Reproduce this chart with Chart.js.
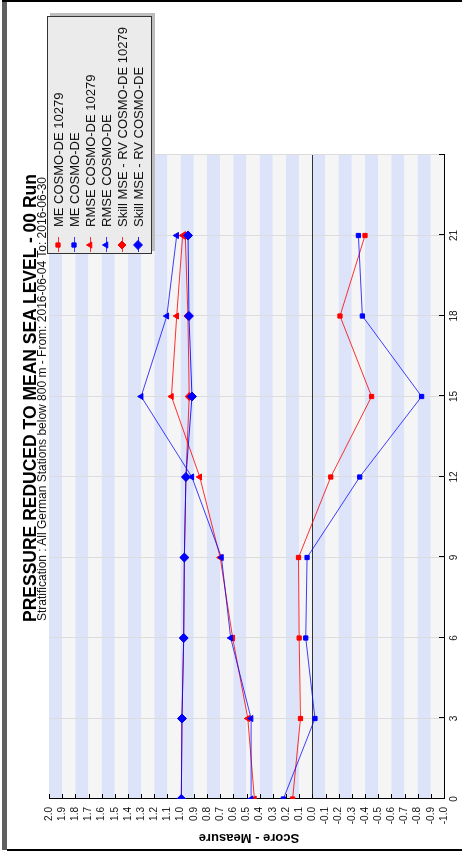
<!DOCTYPE html>
<html>
<head>
<meta charset="utf-8">
<script src="https://cdn.jsdelivr.net/npm/chart.js@4.4.1/dist/chart.umd.min.js"></script>
<style>
html, body { margin: 0; padding: 0; background: #fff; overflow: hidden; }
body { width: 462px; height: 855px; position: relative; font-family: 'Liberation Sans', Arial, sans-serif; }
/* the chart is laid out 855x462 and turned a quarter turn, like the reference */
#page { position: absolute; left: 0; top: 0; width: 855px; height: 462px; transform-origin: 0 0; transform: translateY(855px) rotate(-90deg); }
#page canvas { position: absolute; left: 0; top: 0; }
.title { position: absolute; left: 233px; top: 22px; font-size: 17.5px; font-weight: bold; line-height: 1; white-space: nowrap; color: #000; }
.subtitle { position: absolute; left: 234px; top: 36px; font-size: 12px; line-height: 1; white-space: nowrap; color: #111; }
.ytitle { position: absolute; left: 17px; top: 249px; font-size: 13px; font-weight: bold; line-height: 1; white-space: nowrap; color: #000; transform: translate(-50%, -50%) rotate(-90deg); }
.bar-left { position: absolute; left: 2px; top: 0; width: 5px; height: 850px; background: #5f5f5f; }
.line-top { position: absolute; left: 2px; top: 0; width: 460px; height: 2px; background: #000; }
.line-bottom { position: absolute; left: 7px; top: 849px; width: 455px; height: 2px; background: #000; }
</style>
</head>
<body>
<div id="page">
  <canvas id="scoreChart" width="855" height="462"></canvas>
  <div class="title">PRESSURE REDUCED TO MEAN SEA LEVEL - 00 Run</div>
  <div class="subtitle">Stratification : All German Stations below 800 m - From: 2016-06-04 To: 2016-06-30</div>
  <div class="ytitle">Score - Measure</div>
</div>
<div class="bar-left"></div>
<div class="line-top"></div>
<div class="line-bottom"></div>
<script>
// lead times (hours) and axis ticks
const leadTimes = [0, 3, 6, 9, 12, 15, 18, 21];
const xTickValues = [0, 3, 6, 9, 12, 15, 18, 21, 24];
const xTickLabels = ['0', '3', '6', '9', '12', '15', '18', '21', ''];

const seriesNames = [
    'ME COSMO-DE 10279',
    'ME COSMO-DE',
    'RMSE COSMO-DE 10279',
    'RMSE COSMO-DE',
    'Skill MSE - RV COSMO-DE 10279',
    'Skill MSE - RV COSMO-DE'
];

// values
const meStation = [0.15, 0.09, 0.10, 0.105, -0.14, -0.45, -0.21, -0.40];
const meModel = [0.22, -0.02, 0.05, 0.04, -0.36, -0.83, -0.38, -0.35];
const rmseStation = [0.44, 0.49, 0.605, 0.70, 0.855, 1.07, 1.03, 0.985];
const rmseModel = [0.465, 0.465, 0.62, 0.69, 0.915, 1.30, 1.105, 1.03];
const skillStation = [0.995, 0.99, 0.977, 0.972, 0.96, 0.935, 0.945, 0.965];
const skillModel = [0.995, 0.99, 0.977, 0.972, 0.96, 0.914, 0.937, 0.944];

var fontFamily = "'Liberation Sans', Arial, sans-serif";

function toPoints(values) {
    return leadTimes.map((t, i) => ({ x: t, y: values[i] }));
}

function makeSeries(i, values, color, lineColor, style, radius) {
    return {
        label: seriesNames[i],
        data: toPoints(values),
        borderColor: lineColor,
        backgroundColor: color,
        borderWidth: 1,
        pointStyle: style,
        pointRadius: radius,
        pointBackgroundColor: color,
        pointBorderColor: color,
        pointBorderWidth: 1,
        tension: 0,
        order: seriesNames.length - i
    };
}

// alternating bands behind the plot, one per y tick interval
const stripes = {
    id: 'stripes',
    beforeDraw(chart) {
        var ctx = chart.ctx, a = chart.chartArea, y = chart.scales.y;
        var ticks = y.ticks.slice().sort((p, q) => q.value - p.value);
        ctx.save();
        for (var i = 0; i < ticks.length - 1; i++) {
            var y1 = y.getPixelForValue(ticks[i].value);
            var y2 = y.getPixelForValue(ticks[i + 1].value);
            ctx.fillStyle = i % 2 === 0 ? '#dde4f9' : '#f5f5f5';
            ctx.fillRect(a.left, y1, a.right - a.left, y2 - y1);
        }
        ctx.restore();
    }
};

// short tick marks pointing into the plot
const innerTicks = {
    id: 'innerTicks',
    beforeDatasetsDraw(chart) {
        var ctx = chart.ctx, a = chart.chartArea, x = chart.scales.x, y = chart.scales.y;
        ctx.save();
        ctx.strokeStyle = '#000';
        ctx.lineWidth = 1;
        ctx.beginPath();
        y.ticks.forEach(t => {
            var p = Math.round(y.getPixelForValue(t.value)) + 0.5;
            ctx.moveTo(a.left, p);
            ctx.lineTo(a.left + 5, p);
        });
        x.ticks.forEach(t => {
            var p = Math.round(x.getPixelForValue(t.value)) + 0.5;
            ctx.moveTo(p, a.bottom);
            ctx.lineTo(p, a.bottom - 5);
        });
        ctx.stroke();
        ctx.restore();
    }
};

// boxed legend with shadow, drawn over the top right of the plot
const boxLegend = {
    id: 'boxLegend',
    afterDraw(chart) {
        var ctx = chart.ctx;
        var bx = 601, by = 47, bw = 238, bh = 105;
        ctx.save();
        ctx.fillStyle = '#bdbdbd';
        ctx.fillRect(bx + 3, by + 3, bw, bh);
        ctx.fillStyle = '#ebebeb';
        ctx.fillRect(bx, by, bw, bh);
        ctx.strokeStyle = '#333';
        ctx.lineWidth = 1;
        ctx.strokeRect(bx + 0.5, by + 0.5, bw - 1, bh - 1);
        ctx.font = '13px ' + fontFamily;
        ctx.textBaseline = 'middle';
        chart.data.datasets.forEach((ds, i) => {
            var cy = by + 11 + i * 16;
            ctx.strokeStyle = ds.borderColor;
            ctx.beginPath();
            ctx.moveTo(bx + 2, cy + 0.5);
            ctx.lineTo(bx + 17, cy + 0.5);
            ctx.stroke();
            ctx.fillStyle = ds.pointBackgroundColor;
            ctx.strokeStyle = ds.pointBorderColor;
            Chart.helpers.drawPoint(ctx, {
                pointStyle: ds.pointStyle,
                radius: ds.pointRadius,
                rotation: 0,
                borderWidth: 1
            }, bx + 9, cy);
            ctx.fillStyle = '#111';
            ctx.fillText(ds.label, bx + 27, cy + 1);
        });
        ctx.restore();
    }
};

var ctx = document.getElementById('scoreChart').getContext('2d');
var scoreChart = new Chart(ctx, {
    type: 'line',
    data: {
        datasets: [
            makeSeries(0, meStation, '#ff0000', 'rgba(255,0,0,0.8)', 'rect', 3),
            makeSeries(1, meModel, '#0000ff', 'rgba(0,0,255,0.75)', 'rect', 3),
            makeSeries(2, rmseStation, '#ff0000', 'rgba(255,0,0,0.8)', 'triangle', 3.5),
            makeSeries(3, rmseModel, '#0000ff', 'rgba(0,0,255,0.75)', 'triangle', 3.5),
            makeSeries(4, skillStation, '#ff0000', 'rgba(255,0,0,0.8)', 'rectRot', 4),
            makeSeries(5, skillModel, '#0000ff', 'rgba(0,0,255,0.85)', 'rectRot', 4.5)
        ]
    },
    options: {
        responsive: false,
        animation: false,
        devicePixelRatio: 1,
        layout: { padding: { left: 0, right: 155, top: 49, bottom: 0 } },
        plugins: {
            legend: { display: false },
            title: { display: false },
            tooltip: { enabled: false }
        },
        scales: {
            x: {
                type: 'linear',
                min: 0,
                max: 24,
                afterFit(scale) { scale.height = 18; },
                afterBuildTicks(scale) { scale.ticks = xTickValues.map(v => ({ value: v })); },
                ticks: {
                    autoSkip: false,
                    maxRotation: 0,
                    padding: 4,
                    color: '#111',
                    font: { size: 10, family: fontFamily },
                    callback: function(value) {
                        var i = xTickValues.indexOf(value);
                        return i < 0 ? '' : xTickLabels[i];
                    }
                },
                grid: { color: '#dcdcdc', lineWidth: 1, drawTicks: false },
                border: { display: true, color: '#000', width: 1 }
            },
            y: {
                min: -1,
                max: 2,
                afterFit(scale) { scale.width = 56; },
                ticks: {
                    stepSize: 0.1,
                    autoSkip: false,
                    padding: 8,
                    color: '#111',
                    font: { size: 10, family: fontFamily },
                    callback: function(value) {
                        var v = Math.round(value * 10) / 10;
                        if (Math.abs(v) < 1e-9) return '0.0';
                        return v.toFixed(1);
                    }
                },
                grid: {
                    drawTicks: false,
                    lineWidth: 1,
                    color: function(c) {
                        return c.tick && Math.abs(c.tick.value) < 1e-9 ? '#333' : 'rgba(0,0,0,0)';
                    }
                },
                border: { display: true, color: '#000', width: 1 }
            }
        }
    },
    plugins: [stripes, innerTicks, boxLegend]
});
</script>
</body>
</html>
